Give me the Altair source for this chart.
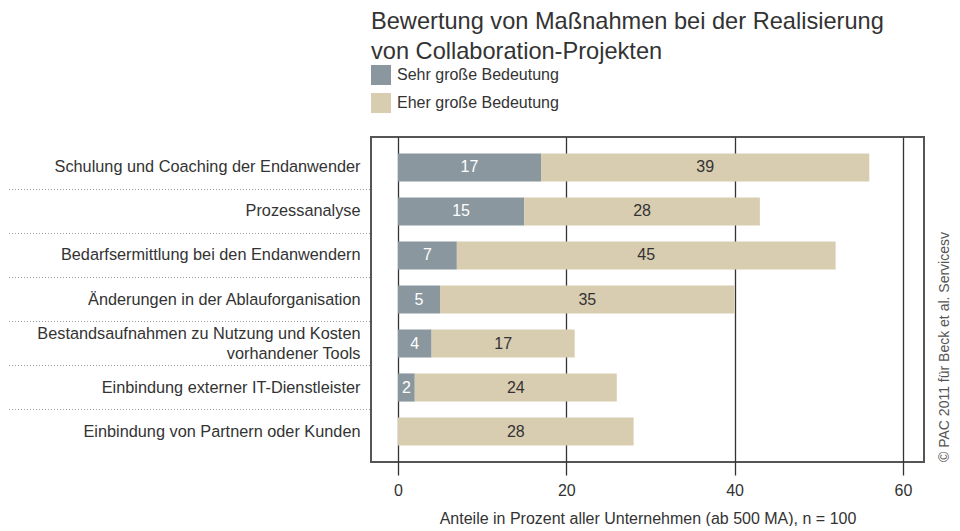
import altair as alt
import pandas as pd

categories = [
    "Schulung und Coaching der Endanwender",
    "Prozessanalyse",
    "Bedarfsermittlung bei den Endanwendern",
    "Änderungen in der Ablauforganisation",
    "Bestandsaufnahmen zu Nutzung und Kosten\nvorhandener Tools",
    "Einbindung externer IT-Dienstleister",
    "Einbindung von Partnern oder Kunden",
]
series_names = ["Sehr große Bedeutung", "Eher große Bedeutung"]
sehr_gross = [17, 15, 7, 5, 4, 2, 0]
eher_gross = [39, 28, 45, 35, 17, 24, 28]
x_ticks = [0, 20, 40, 60]
title_lines = ["Bewertung von Maßnahmen bei der Realisierung", "von Collaboration-Projekten"]
x_title = "Anteile in Prozent aller Unternehmen (ab 500 MA), n = 100"
copyright_text = "© PAC 2011 für Beck et al. Servicesv"

colors = ["#8a979f", "#d9cdb1"]
text_colors = ["#ffffff", "#333333"]
FONT = "Liberation Sans"

rows = []
for i, c in enumerate(categories):
    for j, (s, vals) in enumerate(zip(series_names, [sehr_gross, eher_gross])):
        rows.append({"cat": c, "series": s, "order": j, "value": vals[i]})
df = pd.DataFrame(rows)
sep_df = pd.DataFrame({"cat": categories[:-1]})
copy_df = pd.DataFrame({"t": [copyright_text]})

W, H = 553, 325

yscale = alt.Scale(domain=categories, paddingInner=0.36, paddingOuter=0.373)
xscale = alt.Scale(domain=[-3.2, 62.5], nice=False, zero=False)

base = alt.Chart(df).transform_stack(
    stack="value", as_=["x0", "x1"], groupby=["cat"], sort=[alt.SortField("order")]
).transform_calculate(mid="(datum.x0 + datum.x1) / 2")

bars = base.mark_bar().encode(
    y=alt.Y("cat:N", scale=yscale, sort=categories, axis=alt.Axis(
        title=None, ticks=False, domain=False, grid=False,
        labelFontSize=16.3, labelColor="#333333", labelFont=FONT,
        labelPadding=11, labelLimit=400, labelLineHeight=20,
        labelBaseline={"condition": {"test": "indexof(datum.label, 'vorhandener') >= 0",
                                     "value": "line-bottom"}, "value": "middle"},
        labelExpr="split(datum.label, '\\n')")),
    x=alt.X("x0:Q", scale=xscale, axis=alt.Axis(
        values=x_ticks, title=x_title, grid=True, gridColor="#333333", gridWidth=1.3,
        ticks=True, tickSize=13, tickColor="#333333", tickWidth=1.3, domain=False,
        labelFontSize=16, labelColor="#333333", labelFont=FONT, labelPadding=7,
        titleFontSize=16, titleFontWeight="normal", titleColor="#333333",
        titleFont=FONT, titlePadding=12)),
    x2="x1:Q",
    color=alt.Color("series:N", scale=alt.Scale(domain=series_names, range=colors),
                    legend=alt.Legend(title=None, orient="none", legendX=0, legendY=-72,
                                      symbolType="square", symbolSize=400, symbolStrokeWidth=0,
                                      symbolOpacity=1, labelLimit=300,
                                      labelFontSize=16, labelColor="#333333", labelFont=FONT,
                                      labelOffset=6, rowPadding=8, padding=0)),
)

labels = base.transform_filter("datum.value > 0").mark_text(
    fontSize=16, font=FONT
).encode(
    y=alt.Y("cat:N", scale=yscale, sort=categories),
    x=alt.X("mid:Q", scale=xscale),
    text=alt.Text("value:Q"),
    color=alt.Color("series:N", scale=alt.Scale(domain=series_names, range=text_colors), legend=None),
)

seps = alt.Chart(sep_df).mark_rule(
    strokeDash=[1, 2], color="#9a9a9a", strokeWidth=1, yOffset=22
).encode(
    y=alt.Y("cat:N", scale=yscale, sort=categories),
    x=alt.value(-362), x2=alt.value(0),
)

copyright = alt.Chart(copy_df).mark_text(
    angle=270, align="left", baseline="middle", fontSize=14, font=FONT, color="#555555"
).encode(
    text="t:N", x=alt.value(574), y=alt.value(H),
)

chart = alt.layer(bars, labels, seps, copyright).resolve_scale(color="independent").properties(
    width=W, height=H,
    padding={"left": 0, "right": 0, "top": 2, "bottom": 0},
    title=alt.TitleParams(title_lines, anchor="start", frame="group", fontSize=23.6,
                          fontWeight="normal", color="#333333", font=FONT,
                          lineHeight=30, offset=1),
).configure_view(stroke="#555555", strokeWidth=2)

chart.save("out.html", embed_options={"renderer": "svg", "actions": False})
